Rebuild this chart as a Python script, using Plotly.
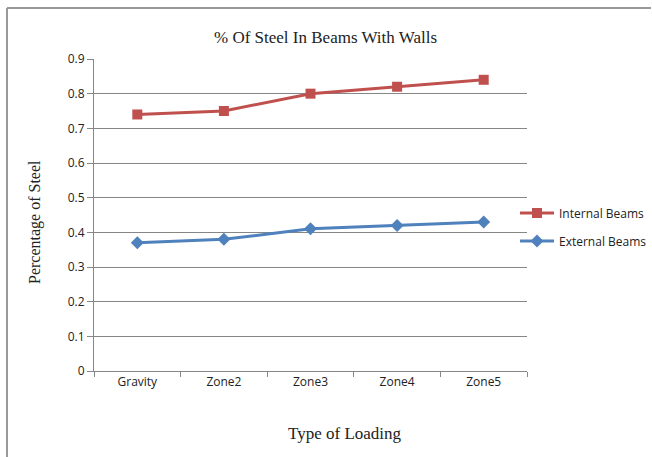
import plotly.graph_objects as go

# Loading cases and steel percentages for beams with walls
loading_types = ["Gravity", "Zone2", "Zone3", "Zone4", "Zone5"]
internal_beams = [0.74, 0.75, 0.80, 0.82, 0.84]
external_beams = [0.37, 0.38, 0.41, 0.42, 0.43]
y_ticks = [0, 0.1, 0.2, 0.3, 0.4, 0.5, 0.6, 0.7, 0.8, 0.9]

W, H = 652, 457
L, R, T, B = 94, 125, 59, 86
pw, ph = W - L - R, H - T - B

def px(x):
    return (x - L) / pw

def py(y):
    return 1 - (y - T) / ph

sans = "Open Sans, Liberation Sans, sans-serif"
serif = "Liberation Serif, serif"

fig = go.Figure()
fig.add_trace(go.Scatter(
    x=loading_types, y=internal_beams, name="Internal Beams",
    mode="lines+markers",
    line=dict(color="#C0504D", width=3),
    marker=dict(symbol="square", size=10, color="#C0504D"),
    legend="legend",
))
fig.add_trace(go.Scatter(
    x=loading_types, y=external_beams, name="External Beams",
    mode="lines+markers",
    line=dict(color="#4F81BD", width=3),
    marker=dict(symbol="diamond", size=10, color="#4F81BD"),
    legend="legend2",
))

axis_grey = "#868686"
legend_style = dict(
    xanchor="left", yanchor="middle",
    font=dict(family=sans, size=12, color="#222"),
    bgcolor="rgba(0,0,0,0)", itemwidth=34,
)
fig.update_layout(
    width=W, height=H,
    margin=dict(l=L, r=R, t=T, b=B, autoexpand=False),
    paper_bgcolor="white", plot_bgcolor="white",
    showlegend=True,
    legend=dict(x=px(515), y=py(213), **legend_style),
    legend2=dict(x=px(515), y=py(241), **legend_style),
    xaxis=dict(
        type="category", tickson="boundaries",
        showline=True, linecolor=axis_grey, linewidth=1,
        ticks="outside", ticklen=5, tickcolor=axis_grey,
        showgrid=False, zeroline=False,
        tickfont=dict(family=sans, size=12, color="#222"),
        range=[-0.5, 4.5],
    ),
    yaxis=dict(
        range=[0, 0.9], tickvals=y_ticks,
        ticktext=[f"{v:g}" for v in y_ticks],
        showline=True, linecolor=axis_grey, linewidth=1,
        ticks="outside", ticklen=6, tickcolor=axis_grey,
        showgrid=True, gridcolor=axis_grey, gridwidth=1,
        zeroline=False,
        tickfont=dict(family=sans, size=12, color="#222"),
    ),
    annotations=[
        dict(text="% Of Steel In Beams With Walls", xref="paper", yref="paper",
             x=px(325), y=py(37), xanchor="center", yanchor="middle", showarrow=False,
             font=dict(family=serif, size=17, color="#222")),
        dict(text="Type of Loading", xref="paper", yref="paper",
             x=px(345), y=py(433), xanchor="center", yanchor="middle", showarrow=False,
             font=dict(family=serif, size=17, color="#222")),
        dict(text="Percentage of Steel", xref="paper", yref="paper",
             x=px(35), y=py(222), xanchor="center", yanchor="middle", showarrow=False,
             textangle=-90,
             font=dict(family=serif, size=16, color="#222")),
    ],
    shapes=[
        # outer frame: left and top edges
        dict(type="line", xref="paper", yref="paper",
             x0=px(7), x1=px(7), y0=py(8), y1=py(457), line=dict(color="#999", width=2)),
        dict(type="line", xref="paper", yref="paper",
             x0=px(7), x1=px(651), y0=py(8), y1=py(8), line=dict(color="#999", width=2)),
    ],
)

fig.write_html("out.html")
